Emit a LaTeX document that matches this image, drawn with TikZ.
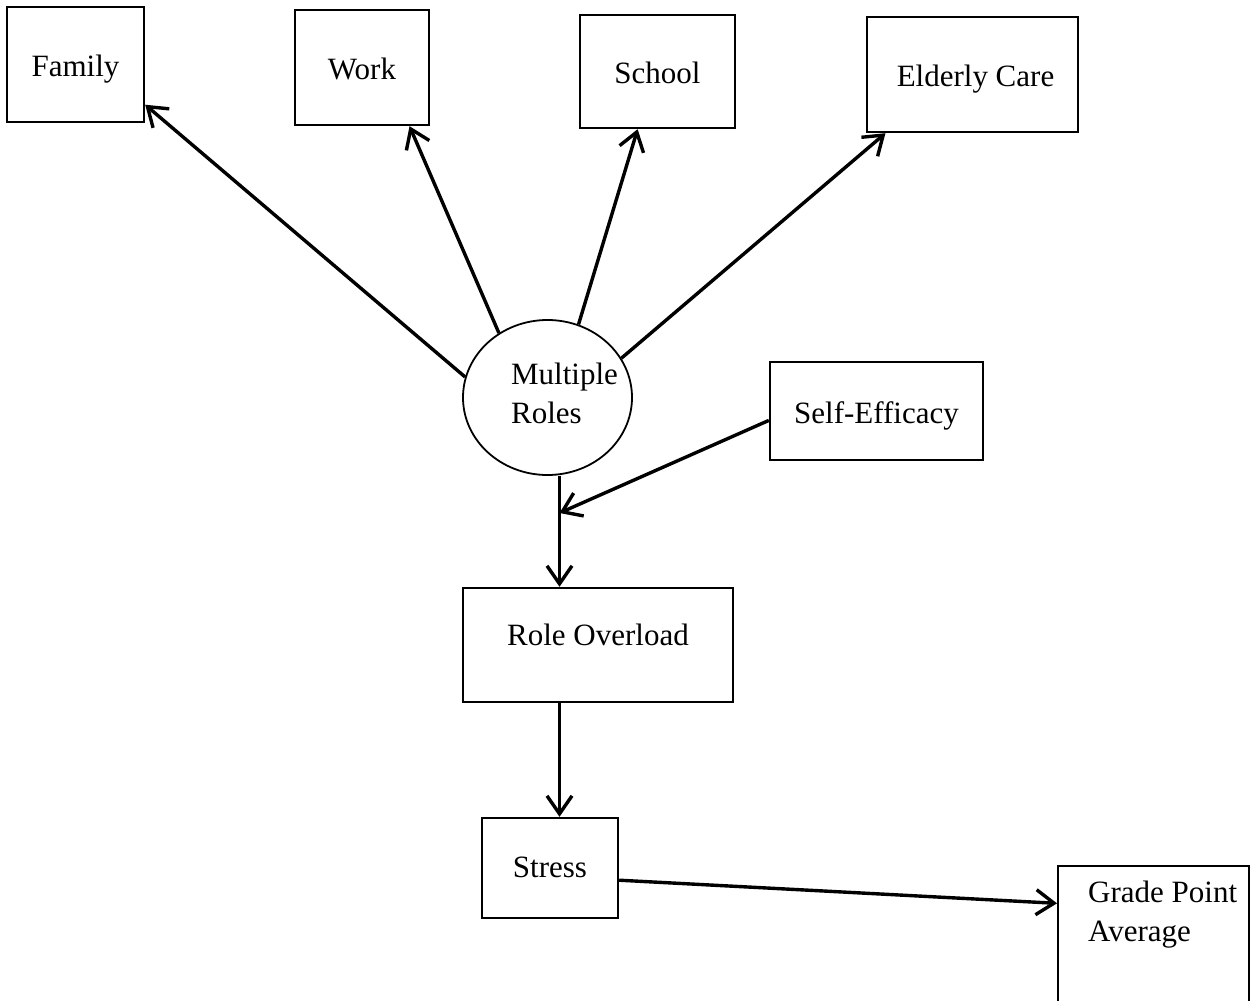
\documentclass[tikz,border=0pt]{standalone}
\usepackage{fontspec}
\setmainfont{Liberation Serif}
\usetikzlibrary{arrows.meta,shapes.geometric}
\newcommand\diagfont{\fontsize{31}{39}\selectfont}

\begin{document}
\begin{tikzpicture}[x=1pt,y=-1pt,
  box/.style={draw, rectangle, line width=2.4pt, inner sep=0pt, font=\diagfont,
              text height=24pt, text depth=0pt},
  oval/.style={draw, ellipse, line width=1.8pt, inner sep=0pt},
  link/.style={line width=3.4pt, -{Straight Barb[length=18pt,width=25pt]}},
  trunk/.style={line width=3pt},
  lbl/.style={align=left, font=\diagfont, inner sep=0pt}]
\useasboundingbox (0,0) rectangle (1250,1001);
\clip (0,0) rectangle (1250,1001);
\fill[white] (0,0) rectangle (1250,1001);

% the four role domains
\node[box, minimum width=137, minimum height=115] (family)  at (75.5,64.5)  {Family};
\node[box, minimum width=134, minimum height=115] (work)    at (362,67.5)   {Work};
\node[box, minimum width=155, minimum height=113] (school)  at (657.5,71.5) {School};
\node[box, minimum width=211, minimum height=115] (elderly) at (972.5,74.5) {\hspace*{6pt}Elderly Care};

% central construct
\node[oval, minimum width=169, minimum height=155,
      label={[lbl, xshift=17pt, yshift=4pt]center:Multiple\\Roles}] (roles) at (547.5,397.5) {};

% moderator
\node[box, minimum width=213, minimum height=98] (se) at (876.5,411) {Self-Efficacy};
\coordinate (join) at (559.5,513);

% outcome chain
\node[box, minimum width=270, minimum height=114, text height=21pt, text depth=20pt] (ro) at (598,645) {Role Overload};
\node[box, minimum width=136, minimum height=100, text height=19pt] (stress) at (550,868) {Stress};
\node[box, anchor=north west, minimum width=191, text height=36pt, text depth=184pt]
  (gpa) at (1057,865) {\begin{tabular}[t]{@{\hspace{18pt}}l@{}}Grade Point\\Average\end{tabular}};

% roles to domains
\draw[link] (roles.166.7) -- (family.-30.6);
\draw[link] (roles.127.4) -- (work.-51.1);
\draw[link] (roles.67)    -- (school.-109.2);
\draw[link] (roles.28)    -- (elderly.-146.1);

% main path with moderation
\draw[trunk] (roles.south -| join) -- (join);
\draw[link] (join) -- (ro.north -| join);
\draw[link] (se.-175.2) -- (join);
\draw[link] (ro.south -| join) -- (stress.north -| join);
\draw[link] (stress.-10) -- (gpa.143);
\end{tikzpicture}
\end{document}
